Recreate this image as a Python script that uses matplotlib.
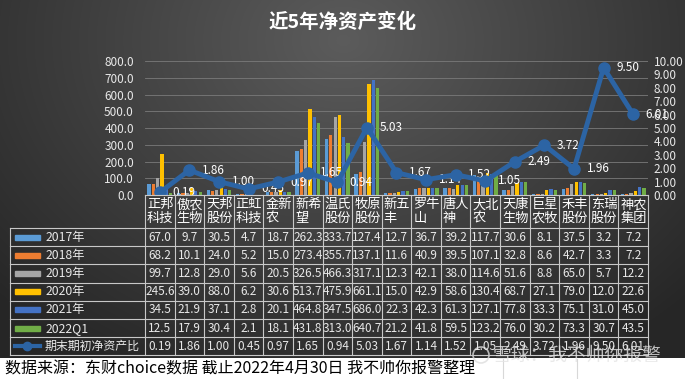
import numpy as np
import matplotlib
matplotlib.use("Agg")
import matplotlib.pyplot as plt
from matplotlib.patches import Rectangle, Circle
from matplotlib.lines import Line2D

plt.rcParams['font.family'] = ['Noto Sans CJK SC', 'DejaVu Sans']

# 数据
companies = ["正邦科技", "傲农生物", "天邦股份", "正虹科技", "金新农", "新希望", "温氏股份",
             "牧原股份", "新五丰", "罗牛山", "唐人神", "大北农", "天康生物", "巨星农牧",
             "禾丰股份", "东瑞股份", "神农集团"]
years = ["2017年", "2018年", "2019年", "2020年", "2021年", "2022Q1"]
v2017 = [67.0, 9.7, 30.5, 4.7, 18.7, 262.3, 333.7, 127.4, 12.7, 36.7, 39.2, 117.7, 30.6, 8.1, 37.5, 3.2, 7.2]
v2018 = [68.2, 10.1, 24.0, 5.2, 15.0, 273.4, 355.7, 137.1, 11.6, 40.9, 39.5, 107.1, 32.8, 8.6, 42.7, 3.3, 7.2]
v2019 = [99.7, 12.8, 29.0, 5.6, 20.5, 326.5, 466.3, 317.1, 12.3, 42.1, 38.0, 114.6, 51.6, 8.8, 65.0, 5.7, 12.2]
v2020 = [245.6, 39.0, 88.0, 6.2, 30.6, 513.7, 475.9, 661.1, 15.0, 42.9, 58.6, 130.4, 68.7, 27.1, 79.0, 12.0, 22.6]
v2021 = [34.5, 21.9, 37.1, 2.8, 20.1, 464.8, 347.5, 686.0, 22.3, 42.3, 61.3, 127.1, 77.8, 33.3, 75.1, 31.0, 45.0]
v2022q1 = [12.5, 17.9, 30.4, 2.1, 18.1, 431.8, 313.0, 640.7, 21.2, 41.8, 59.5, 123.2, 76.0, 30.2, 73.3, 30.7, 43.5]
ratio = [0.19, 1.86, 1.00, 0.45, 0.97, 1.65, 0.94, 5.03, 1.67, 1.14, 1.52, 1.05, 2.49, 3.72, 1.96, 9.50, 6.01]
ratio_name = "期末期初净资产比"

series = [v2017, v2018, v2019, v2020, v2021, v2022q1]
colors = ['#5b9bd5', '#ed7d31', '#a5a5a5', '#ffc000', '#4472c4', '#70ad47']
line_color = '#2c64a4'
txt_color = '#e8e8e8'

W, H = 685, 379
fig = plt.figure(figsize=(W / 100, H / 100), dpi=100, facecolor='white')

# 背景渐变
bg = fig.add_axes([0, 0, 1, 1])
yy, xx = np.mgrid[0:358, 0:W]
r = np.sqrt(((xx - 343) / 430) ** 2 + ((yy - 40) / 340) ** 2)
g = np.clip(0.36 - 0.19 * r, 0.15, 1)
bg.imshow(np.dstack([g, g, g]), extent=[0, W, 358, 0], aspect='auto', interpolation='bilinear')
bg.set_xlim(0, W)
bg.set_ylim(H, 0)
bg.axis('off')

# 主图
x0, x1, ytop, ybot = 145, 648, 61, 195
ax = fig.add_axes([x0 / W, 1 - ybot / H, (x1 - x0) / W, (ybot - ytop) / H])
ax.patch.set_alpha(0)
x = np.arange(len(companies))
for i, (vals, c) in enumerate(zip(series, colors)):
    ax.bar(x + (i - 2.5) * 0.146, vals, 0.11, color=c, zorder=3)
ax.set_xlim(-0.5, len(companies) - 0.5)
ax.set_ylim(0, 800)
ax.set_yticks(range(0, 801, 100))
ax.set_yticklabels([f"{v:.1f}" for v in range(0, 801, 100)])
ax.set_xticks([])
ax.tick_params(axis='y', colors=txt_color, labelsize=8.5, length=0, pad=8)
ax.grid(axis='y', color='#7a7a7a', linewidth=0.6, zorder=0)
for s in ax.spines.values():
    s.set_visible(False)

ax2 = ax.twinx()
ax2.plot(x, ratio, color=line_color, lw=3.5, marker='o', ms=8, zorder=4)
for xi, rv in zip(x, ratio):
    ax2.annotate(f"{rv:.2f}", (xi, rv), xytext=(9, 0), textcoords='offset points',
                 ha='left', va='center', color='white', fontsize=8.5)
ax2.set_ylim(0, 10)
ax2.set_yticks(range(0, 11))
ax2.set_yticklabels([f"{v:.2f}" for v in range(0, 11)])
ax2.tick_params(axis='y', colors=txt_color, labelsize=8.5, length=0, pad=4)
for s in ax2.spines.values():
    s.set_visible(False)

# 标题
fig.text(343 / W, 1 - 22 / H, "近5年净资产变化", ha='center', va='center',
         color='white', fontsize=14, fontweight='bold')

# 数据表
ov = fig.add_axes([0, 0, 1, 1])
ov.patch.set_alpha(0)
ov.set_xlim(0, W)
ov.set_ylim(H, 0)
ov.axis('off')

n = len(companies)
cw = (x1 - x0) / n
head_top, head_bot = 195, 228
rh = 18.2
rows = [v2017, v2018, v2019, v2020, v2021, v2022q1]
row_bot = head_bot + rh * 7
lc = '#c8c8c8'
lw = 0.8
ov.plot([x0, x1], [head_top, head_top], color=lc, lw=lw)
for k in range(n + 1):
    ov.plot([x0 + k * cw] * 2, [head_top, row_bot], color=lc, lw=lw)
for j in range(8):
    yj = head_bot + j * rh
    ov.plot([10, x1], [yj, yj], color=lc, lw=lw)
ov.plot([10, 10], [head_bot, row_bot], color=lc, lw=lw)

for k, name in enumerate(companies):
    ov.text(x0 + k * cw + 2, (head_top + head_bot) / 2, name[:2] + "\n" + name[2:],
            ha='left', va='center', color='white', fontsize=9.5, linespacing=1.05)

for j, (vals, c, lab) in enumerate(zip(rows, colors, years)):
    yc = head_bot + (j + 0.5) * rh
    ov.add_patch(Rectangle((15, yc - 2.5), 25, 5, color=c))
    ov.text(46, yc, lab, ha='left', va='center', color=txt_color, fontsize=8.8)
    for k, v in enumerate(vals):
        ov.text(x0 + (k + 0.5) * cw, yc, f"{v:.1f}", ha='center', va='center',
                color=txt_color, fontsize=8.5)

yc = head_bot + 6.5 * rh
ov.add_line(Line2D([15, 40], [yc, yc], color=line_color, lw=3))
ov.add_line(Line2D([27.5], [yc], color=line_color, marker='o', ms=6))
ov.text(45, yc, ratio_name, ha='left', va='center', color=txt_color, fontsize=8.6)
for k, v in enumerate(ratio):
    ov.text(x0 + (k + 0.5) * cw, yc, f"{v:.2f}", ha='center', va='center',
            color=txt_color, fontsize=8.5)

# 底部说明和水印
for xv in (503, 577):
    ov.plot([xv, xv], [359, H], color='#d8d8d8', lw=0.8)
ov.text(5, 369, "数据来源：东财choice数据 截止2022年4月30日 我不帅你报警整理",
        ha='left', va='center', color='black', fontsize=11.5)
ov.add_patch(Circle((481, 355), 8, fill=False, ec='#dddddd', lw=1.2, alpha=0.8))
ov.text(493, 355, "雪球：我不帅你报警", ha='left', va='center', color='#e4e4e4',
        fontsize=13.5, alpha=0.8)

fig.savefig("out.png", dpi=100, facecolor=fig.get_facecolor())
